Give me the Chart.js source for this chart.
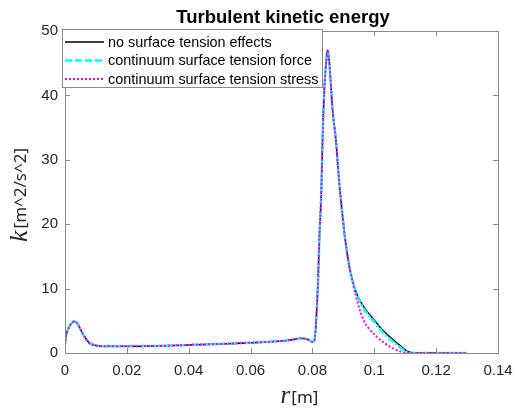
<!DOCTYPE html>
<html>
<head>
<meta charset="utf-8">
<script src="https://cdn.jsdelivr.net/npm/chart.js@4/dist/chart.umd.min.js"></script>
<style>
  html, body { margin: 0; padding: 0; background: #fff; }
  #wrap { width: 516px; height: 414px; }
</style>
</head>
<body>
<div id="wrap"><canvas id="graphic" width="516" height="414"></canvas></div>
<script>
// radius [m]
const rValues = [0, 0.0005, 0.0015, 0.0025, 0.0032, 0.004, 0.0048, 0.0056, 0.0065, 0.008,
  0.0097, 0.012, 0.02, 0.03, 0.04, 0.05, 0.06, 0.07, 0.074, 0.0763,
  0.0785, 0.0802, 0.0807, 0.0812, 0.0818, 0.0823, 0.0828, 0.0833, 0.0839, 0.0844,
  0.0849, 0.0854, 0.086, 0.0866, 0.0876, 0.0884, 0.0892, 0.0905, 0.0919, 0.093,
  0.094, 0.0955, 0.0973, 0.1, 0.1026, 0.105, 0.108, 0.11, 0.111, 0.113,
  0.115, 0.12, 0.125, 0.13];

// k [m^2/s^2]
const kNoTension = [1.3, 3.0, 4.2, 4.8, 4.9, 4.6, 3.9, 3.1, 2.4, 1.5,
  1.2, 1.05, 1.05, 1.1, 1.25, 1.4, 1.6, 1.85, 2.1, 2.3,
  2.1, 1.7, 2.1, 5, 11, 18.7, 23.8, 33.6, 41.4, 45,
  47, 45.5, 41.4, 37.3, 33, 28, 23.8, 18, 13.5, 11.2,
  9.6, 8.0, 6.7, 5.1, 3.6, 2.5, 1.3, 0.5, 0.2, 0,
  0, 0, 0, 0];
const kForce = [1.3, 3.0, 4.2, 4.8, 4.9, 4.6, 3.9, 3.1, 2.4, 1.5,
  1.2, 1.05, 1.05, 1.1, 1.25, 1.4, 1.6, 1.85, 2.1, 2.3,
  2.1, 1.7, 2.1, 5, 11, 18.7, 23.8, 33.6, 41.4, 45,
  47, 45.5, 41.4, 37.3, 33, 28, 23.8, 18, 13.5, 11.2,
  9.5, 7.8, 6.4, 4.8, 3.3, 2.2, 1.0, 0.3, 0.1, 0,
  0, 0, 0, 0];
const kStress = [1.3, 3.0, 4.2, 4.8, 4.9, 4.6, 3.9, 3.1, 2.4, 1.5,
  1.2, 1.05, 1.05, 1.1, 1.25, 1.4, 1.6, 1.85, 2.1, 2.3,
  2.1, 1.7, 2.1, 5, 11, 18.7, 23.8, 33.6, 41.4, 45,
  47, 45.5, 41.4, 37.3, 33, 28, 23.8, 18, 13.5, 11.0,
  9.0, 6.4, 4.4, 2.9, 1.8, 1.0, 0.3, 0.05, 0, 0,
  0, 0, 0, 0];

const seriesNames = ["no surface tension effects", "continuum surface tension force", "continuum surface tension stress"];
const xTicks = [0, 0.02, 0.04, 0.06, 0.08, 0.1, 0.12, 0.14];
const yTicks = [0, 10, 20, 30, 40, 50];

function toPoints(ks) {
  return rValues.map((r, i) => ({ x: r, y: ks[i] }));
}

const series = [
  { label: seriesNames[0], data: toPoints(kNoTension), borderColor: "#000000", borderWidth: 1.5, borderDash: [], order: 2 },
  { label: seriesNames[1], data: toPoints(kForce), borderColor: "#00ffff", borderWidth: 2.5, borderDash: [7, 2, 2, 2], order: 1 },
  { label: seriesNames[2], data: toPoints(kStress), borderColor: "#ff00ff", borderWidth: 2, borderDash: [2, 2], order: 0 }
];

// box, inward ticks, title, axis labels, legend
const decor = {
  id: "decor",
  afterDraw(chart) {
    const ctx = chart.ctx;
    const a = chart.chartArea;
    const xs = chart.scales.x, ys = chart.scales.y;
    ctx.save();
    ctx.strokeStyle = "#8a8a8a";
    ctx.lineWidth = 1;
    ctx.strokeRect(Math.round(a.left) + 0.5, Math.round(a.top) + 0.5, Math.round(a.right - a.left), Math.round(a.bottom - a.top));
    ctx.beginPath();
    xTicks.forEach(v => {
      const px = Math.round(xs.getPixelForValue(v)) + 0.5;
      ctx.moveTo(px, a.bottom); ctx.lineTo(px, a.bottom - 5);
      ctx.moveTo(px, a.top); ctx.lineTo(px, a.top + 5);
    });
    yTicks.forEach(v => {
      const py = Math.round(ys.getPixelForValue(v)) + 0.5;
      ctx.moveTo(a.left, py); ctx.lineTo(a.left + 5, py);
      ctx.moveTo(a.right, py); ctx.lineTo(a.right - 5, py);
    });
    ctx.stroke();

    // title
    ctx.fillStyle = "#000";
    ctx.font = "bold 18.5px Arial";
    ctx.textAlign = "center";
    ctx.textBaseline = "middle";
    ctx.fillText("Turbulent kinetic energy", 283, 18);

    // x label
    ctx.textBaseline = "alphabetic";
    ctx.textAlign = "left";
    ctx.font = "italic 25px 'Liberation Serif'";
    const rw = ctx.measureText("r").width;
    ctx.font = "17px 'Noto Sans'";
    const mw = ctx.measureText("[m]").width;
    let x0 = 299 - (rw + mw) / 2;
    ctx.fillStyle = "#262626";
    ctx.font = "italic 25px 'Liberation Serif'";
    ctx.fillText("r", x0, 403);
    ctx.font = "17px 'Noto Sans'";
    ctx.fillText("[m]", x0 + rw + 1, 403);

    // y label
    ctx.translate(27, 196);
    ctx.rotate(-Math.PI / 2);
    ctx.font = "italic 26px 'Liberation Serif'";
    const kw = ctx.measureText("k").width;
    ctx.font = "17px 'Noto Sans'";
    const uw = ctx.measureText("[m^2/s^2]").width;
    let y0 = -(kw + uw) / 2;
    ctx.font = "italic 26px 'Liberation Serif'";
    ctx.fillText("k", y0, 0);
    ctx.font = "17px 'Noto Sans'";
    ctx.fillText("[m^2/s^2]", y0 + kw + 2, -1);
    ctx.setTransform(1, 0, 0, 1, 0, 0);

    // legend
    const lx = 62, ly = 29, lw = 260, lh = 58;
    ctx.fillStyle = "#fff";
    ctx.fillRect(lx, ly, lw, lh);
    ctx.strokeStyle = "#8a8a8a";
    ctx.lineWidth = 1;
    ctx.strokeRect(lx + 0.5, ly + 0.5, lw, lh);
    ctx.font = "14.4px Arial";
    ctx.textBaseline = "middle";
    series.forEach((s, i) => {
      const yy = ly + 13 + i * 18.5;
      ctx.strokeStyle = s.borderColor;
      ctx.lineWidth = s.borderWidth;
      ctx.setLineDash(i === 1 ? [7, 3] : s.borderDash);
      ctx.beginPath();
      ctx.moveTo(lx + 3, yy); ctx.lineTo(lx + 42, yy);
      ctx.stroke();
      ctx.setLineDash([]);
      ctx.fillStyle = "#000";
      ctx.fillText(s.label, lx + 46, yy + 1);
    });
    ctx.restore();
  }
};

const ctx = document.getElementById("graphic").getContext("2d");
const chart = new Chart(ctx, {
  type: "scatter",
  data: {
    datasets: series.map(s => ({
      label: s.label,
      data: s.data,
      showLine: true,
      borderColor: s.borderColor,
      borderWidth: s.borderWidth,
      borderDash: s.borderDash,
      pointRadius: 0,
      tension: 0.3,
      fill: false,
      order: s.order
    }))
  },
  options: {
    responsive: false,
    animation: false,
    layout: { padding: { top: 31, right: 18, left: 0, bottom: 0 } },
    plugins: { legend: { display: false }, tooltip: { enabled: false }, title: { display: false } },
    scales: {
      x: {
        type: "linear", min: 0, max: 0.14,
        afterFit(scale) { scale.height = 61; scale.paddingLeft = 0; scale.paddingRight = 0; },
        grid: { display: false, drawTicks: false },
        border: { display: false },
        ticks: {
          stepSize: 0.02, padding: 9, color: "#262626", font: { family: "Arial", size: 15 },
          maxRotation: 0,
          callback: v => String(Number(v.toFixed(2)))
        }
      },
      y: {
        type: "linear", min: 0, max: 50,
        afterFit(scale) { scale.width = 65; scale.paddingTop = 0; scale.paddingBottom = 0; },
        grid: { display: false, drawTicks: false },
        border: { display: false },
        ticks: { stepSize: 10, padding: 7, color: "#262626", font: { family: "Arial", size: 15 } }
      }
    }
  },
  plugins: [decor]
});
</script>
</body>
</html>
